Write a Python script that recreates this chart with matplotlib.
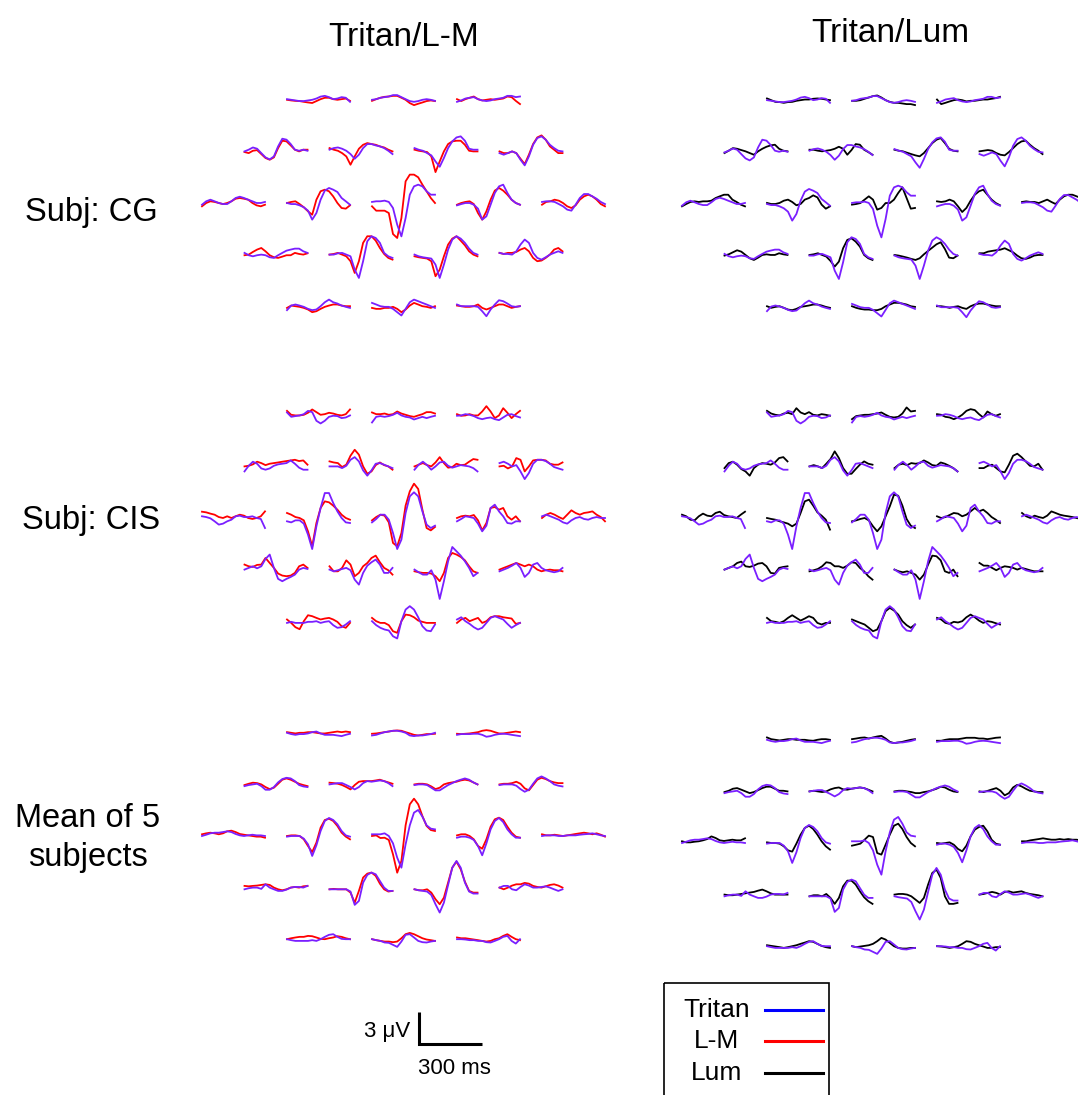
import numpy as np
import matplotlib.pyplot as plt

plt.rcParams['font.family'] = ['Liberation Sans', 'DejaVu Sans']

# time samples of every trace (ms) and electrode layout (rows of 3,4,5,4,3)
t_ms = np.arange(16) * 20
row_cols = [[-1, 0, 1], [-1.5, -0.5, 0.5, 1.5], [-2, -1, 0, 1, 2],
            [-1.5, -0.5, 0.5, 1.5], [-1, 0, 1]]

# waveforms in microvolts, electrode order row by row
cg_tritan = [
    [0.06, 0, -0.06, -0.12, -0.12, -0.06, 0, 0.12, 0.3, 0.37, 0.25, 0.06, 0.12, 0.25, 0.19, -0.19],
    [0, 0.06, 0.19, 0.25, 0.31, 0.44, 0.44, 0.25, 0.06, -0.12, -0.19, -0.12, 0, 0.06, 0, -0.1],
    [-0.19, -0.06, 0.12, 0.19, 0.25, 0.06, -0.06, -0.12, -0.06, 0.06, 0.12, 0.19, 0.37, 0.37, 0.25, 0.31],
    [0, 0.16, 0.37, 0.25, -0.16, -0.56, -0.75, -0.47, 0.47, 1.19, 1.1, 0.69, 0.16, 0.06, 0.16, 0.06],
    [0.16, 0.31, 0.37, 0.25, 0.06, -0.25, -0.69, -0.31, 0.31, 0.69, 0.69, 0.56, 0.47, 0.31, 0.06, -0.25],
    [0.31, 0.16, 0.06, -0.16, -0.37, -0.94, -1.44, -0.62, 0.31, 0.94, 1.31, 1.41, 1.0, 0.25, 0.16, 0.16],
    [-0.16, -0.31, -0.16, 0, -0.16, -0.78, -1.31, -0.47, 0.62, 1.25, 1.41, 1.1, 0.62, 0.31, 0.06, 0],
    [-0.16, 0.16, 0.31, 0.16, 0, -0.1, -0.1, 0.16, 0.47, 0.59, 0.47, 0.31, 0.16, 0, 0, 0.1],
    [0, -0.1, -0.1, -0.22, -0.4, -0.72, -1.56, -0.94, 0.31, 1.16, 1.41, 1.25, 1.03, 0.47, 0.16, -0.16],
    [0.1, 0.16, 0.16, 0.22, 0.1, -0.47, -2.03, -3.13, -1.41, 0.78, 1.56, 1.72, 1.56, 1.1, 0.78, 0.78],
    [-0.22, -0.1, 0, 0, -0.16, -0.53, -1.56, -1.25, -0.16, 0.94, 1.56, 1.72, 0.94, 0.31, 0, -0.16],
    [0.1, 0.16, 0.16, 0.1, -0.1, -0.31, -0.62, -0.72, -0.16, 0.47, 0.84, 0.84, 0.62, 0.4, 0.1, -0.1],
    [0.16, -0.06, -0.16, -0.06, 0, -0.06, -0.25, -0.31, -0.06, 0.16, 0.37, 0.47, 0.56, 0.56, 0.31, 0.16],
    [0, 0, 0.12, 0.16, 0, -0.16, -1.41, -2.19, -0.62, 1.25, 1.72, 1.56, 1.1, 0.16, -0.16, -0.31],
    [0, -0.16, -0.25, -0.31, -0.37, -0.94, -2.19, -0.94, 0.47, 1.41, 1.72, 1.5, 1.1, 0.56, 0.16, 0],
    [0.16, 0.06, 0.06, 0, 0.31, 0.94, 1.41, 1.1, 0.16, -0.31, -0.47, -0.25, 0, 0.16, 0.31, 0.16],
    [-0.37, 0.06, 0.16, 0.06, -0.06, -0.25, -0.37, -0.31, 0, 0.37, 0.62, 0.37, 0.25, 0.06, -0.06, -0.16],
    [0.31, 0.16, 0, -0.06, -0.06, -0.25, -0.56, -0.87, -0.25, 0.37, 0.62, 0.47, 0.31, 0.16, 0, -0.16],
    [0.16, 0, 0, 0, 0, -0.06, -0.47, -0.94, -0.31, 0.16, 0.56, 0.47, 0.25, 0, -0.06, 0],
]
cg_lm = [
    [0, -0.06, -0.1, -0.12, -0.19, -0.25, -0.3, -0.12, 0.06, 0.19, 0.19, 0.06, 0, 0.06, 0.12, -0.1],
    [-0.1, 0.06, 0.19, 0.28, 0.31, 0.37, 0.37, 0.19, 0, -0.31, -0.5, -0.37, -0.25, -0.12, -0.06, -0.12],
    [0.06, -0.12, 0.06, 0.19, 0.31, 0.06, -0.06, 0, 0.06, 0, 0.06, 0.12, 0.31, 0.25, -0.1, -0.4],
    [-0.06, -0.16, 0.06, 0.12, -0.25, -0.62, -0.78, -0.56, 0.31, 1.0, 0.94, 0.56, 0.16, 0, 0.16, 0.16],
    [0.31, 0.16, 0.06, -0.16, -0.47, -1.25, -0.47, 0.25, 0.62, 0.78, 0.69, 0.62, 0.47, 0.37, 0.16, 0],
    [0.16, 0.06, 0, -0.06, -0.47, -1.94, -0.94, 0, 0.69, 0.94, 1.0, 1.0, 0.62, 0.06, 0, 0],
    [0, -0.16, -0.16, 0, -0.16, -0.69, -1.19, -0.31, 0.69, 1.31, 1.5, 1.1, 0.47, 0.16, -0.16, -0.16],
    [-0.31, 0, 0.16, 0.1, 0, -0.1, 0, 0.16, 0.4, 0.47, 0.4, 0.31, 0, -0.22, -0.31, -0.16],
    [0, 0.1, 0.16, -0.1, -0.4, -0.78, -1.1, 0.31, 1.1, 1.25, 1.1, 0.62, 0, -0.47, -0.53, -0.22],
    [-0.31, -0.72, -0.72, -0.72, -0.94, -2.91, -3.28, -1.41, 2.03, 2.66, 2.66, 2.41, 1.72, 1.1, 0.47, 0],
    [-0.16, 0, 0.1, 0.16, -0.1, -0.94, -1.56, -0.78, 0.31, 1.16, 1.41, 1.16, 0.78, 0.31, 0, -0.16],
    [-0.16, 0.1, 0.16, 0.31, 0.22, 0, -0.31, -0.47, -0.22, 0.31, 0.62, 0.78, 0.62, 0.31, -0.1, -0.31],
    [-0.06, 0, 0.25, 0.47, 0.62, 0.31, -0.06, -0.25, -0.31, -0.19, -0.06, -0.06, 0.16, 0.06, 0, 0.12],
    [0, 0.06, 0.16, 0, -0.16, -0.62, -1.72, -0.62, 1.1, 1.72, 1.72, 1.31, 0.62, 0.06, -0.31, -0.47],
    [-0.16, -0.25, -0.31, -0.37, -0.62, -2.03, -1.41, -0.16, 0.94, 1.5, 1.72, 1.31, 0.87, 0.31, 0, -0.16],
    [0.16, 0.06, 0.16, 0.16, 0.25, 0.47, 0.62, 0.31, -0.31, -0.62, -0.56, -0.31, 0, 0.47, 0.62, 0.31],
    [-0.16, 0.06, 0, -0.06, -0.16, -0.31, -0.56, -0.47, -0.25, -0.06, 0.06, 0.16, 0.16, 0.06, 0, 0],
    [-0.16, -0.25, -0.25, -0.16, -0.16, -0.06, -0.25, -0.56, -0.31, 0.06, 0.31, 0.16, 0, -0.06, -0.16, 0],
    [0.06, 0, -0.06, -0.06, 0, 0.16, -0.16, -0.31, -0.16, 0, 0.16, 0.16, 0, -0.16, -0.06, 0],
]
cg_lum = [
    [0.22, 0.06, -0.1, -0.12, -0.19, -0.12, -0.1, 0, 0.06, 0.12, 0.12, 0.19, 0.22, 0.19, 0.12, 0.06],
    [0, 0, 0.06, 0.19, 0.31, 0.44, 0.5, 0.31, 0.06, -0.1, -0.19, -0.19, -0.25, -0.31, -0.31, -0.4],
    [0.12, -0.31, -0.19, -0.06, 0.06, 0.12, 0.06, -0.06, 0, 0, 0.06, 0.12, 0.12, 0.19, 0.25, 0.37],
    [-0.06, 0.16, 0.4, 0.34, 0.22, 0.1, -0.06, -0.22, 0.1, 0.34, 0.53, 0.66, 0.72, 0.34, 0.16, 0.1],
    [0.25, 0.25, 0.16, 0.1, 0.16, 0.22, 0.34, 0.53, 0.34, -0.22, 0.22, 0.78, 0.72, 0.25, 0.03, -0.22],
    [0.25, 0.16, 0.1, -0.03, -0.16, -0.28, -0.37, -0.06, 0.4, 0.87, 1.19, 1.34, 0.87, 0.34, 0.16, 0.1],
    [0.1, 0.16, 0.22, 0.16, -0.06, -0.22, -0.28, 0.03, 0.4, 0.78, 1.03, 1.1, 0.72, 0.4, 0.16, -0.16],
    [-0.22, 0, 0.19, 0.25, 0.19, 0.25, 0.25, 0.31, 0.56, 0.72, 0.87, 0.87, 0.41, 0.19, -0.06, -0.22],
    [0.1, 0, 0, 0.1, 0.31, 0.41, 0.19, -0.12, 0, 0.41, 0.56, 0.81, 0.62, -0.06, -0.44, -0.22],
    [-0.06, 0, 0.09, 0.41, 0.72, 0.41, -0.53, -0.37, 0.09, 0.09, 0.41, 1.03, 1.56, 0.56, -0.44, -0.37],
    [0.25, 0.19, 0.25, 0.41, 0.25, -0.22, -0.75, -0.37, 0.31, 0.87, 1.19, 1.34, 0.87, 0.41, 0.09, -0.12],
    [0.19, 0.25, 0.19, 0.19, 0.09, 0.25, 0.41, 0.19, 0, 0.41, 0.72, 0.87, 0.87, 0.72, 0.56, 0.41],
    [0, 0.12, 0.31, 0.5, 0.37, 0.06, -0.25, -0.41, -0.19, 0.06, 0.12, 0.06, 0.06, 0.22, 0.12, 0.06],
    [0.06, 0.12, 0.22, 0.06, -0.09, -0.5, -1.03, -0.56, 0.69, 1.47, 1.62, 1.31, 0.84, 0.06, -0.25, -0.41],
    [0.06, 0, -0.09, -0.19, -0.31, -0.41, -0.25, 0.12, 0.44, 0.75, 1.06, 1.25, 0.62, -0.19, -0.25, 0],
    [0.22, 0.22, 0.37, 0.44, 0.5, 0.56, 0.69, 0.5, 0.31, 0, -0.25, -0.31, -0.19, 0, 0.06, 0.06],
    [0.09, -0.06, 0.03, 0.09, -0.06, -0.22, -0.28, -0.16, 0.03, 0.09, 0.16, 0.25, 0.25, 0.16, 0.03, -0.06],
    [0.09, -0.06, -0.16, -0.22, -0.22, -0.28, -0.28, -0.16, 0.09, 0.25, 0.41, 0.41, 0.34, 0.25, 0.09, 0.03],
    [0.09, 0.09, 0.03, -0.06, 0.03, 0.09, -0.06, -0.16, 0.09, 0.25, 0.34, 0.34, 0.25, 0.16, 0.09, 0.09],
]

cis_tritan = [
    [0.22, -0.19, -0.12, -0.06, 0.06, 0.37, 0.25, -0.56, -0.81, -0.56, -0.19, -0.09, -0.12, -0.31, -0.25, -0.06],
    [-0.72, -0.19, -0.12, -0.19, -0.12, 0, 0.19, -0.06, -0.19, -0.25, -0.44, -0.31, -0.19, -0.31, -0.19, -0.09],
    [-0.09, -0.06, 0.06, 0, -0.12, -0.31, -0.41, -0.31, -0.25, -0.41, -0.5, -0.25, 0, 0.06, -0.12, -0.25],
    [-0.47, 0.06, 0.44, 0.25, -0.19, -0.31, -0.19, 0.06, 0.19, 0.25, 0.31, 0.56, 0.25, -0.12, -0.31, -0.31],
    [0, 0, 0, -0.16, 0.06, 0.62, 0.87, 0.47, -0.37, -0.87, -0.37, 0.25, 0.31, 0.16, 0, -0.16],
    [-0.31, 0.16, 0.44, 0.12, -0.31, 0, 0.37, 0.44, 0.06, -0.12, 0, 0.12, 0.06, 0, -0.16, -0.47],
    [0.31, 0.44, 0.25, 0, 0.12, -0.47, -1.19, -0.62, 0.25, 0.62, 0.62, 0.5, 0.25, -0.06, -0.19, -0.31],
    [0.16, 0.09, -0.03, -0.31, -0.62, -0.53, -0.31, -0.16, 0.16, 0.22, 0.09, 0.09, 0.16, 0, -0.09, -0.94],
    [-0.31, -0.41, -0.22, -0.22, -0.53, -1.56, -2.91, -0.78, 0.94, 2.34, 2.34, 1.41, 0.62, 0, -0.41, -0.47],
    [-0.41, -0.09, 0.31, 0.31, -0.16, -1.41, -2.91, -2.03, 0.47, 2.03, 2.41, 2.03, 0.62, -0.62, -0.94, -0.72],
    [-0.31, -0.09, 0.16, 0.09, 0, -0.53, -1.25, -0.72, 0.94, 1.25, 0.62, 0.16, -0.47, -0.53, -0.31, -0.31],
    [0.16, 0.31, 0.16, 0, -0.16, -0.41, -0.53, -0.22, 0, 0.09, -0.09, -0.16, 0, 0.09, 0, 0],
    [0, 0.16, 0.31, 0.12, 0.31, 1.0, 1.41, 0.16, -0.87, -1.09, -0.87, -0.69, -0.47, 0, 0.16, 0.06],
    [0, -0.16, -0.06, 0.06, 0.16, -0.06, -0.94, -1.41, -0.31, 0.37, 0.69, 0.94, 0.47, -0.31, -0.31, 0.16],
    [0, -0.25, -0.47, -0.47, -0.06, -0.94, -2.75, -1.09, 0.78, 2.12, 1.72, 1.31, 0.78, 0.16, -0.62, -0.31],
    [-0.16, 0, 0.16, 0.37, 0.62, 0.16, -0.69, -0.31, 0.47, 0.62, 0.16, -0.06, -0.16, -0.25, -0.16, 0.16],
    [-0.16, -0.06, -0.16, -0.16, -0.16, -0.06, -0.06, 0, -0.16, -0.06, 0, -0.37, -0.62, -0.56, -0.31, 0],
    [0, -0.37, -0.62, -0.78, -0.87, -1.41, -1.62, 0, 1.09, 1.41, 1.09, 0.37, -0.47, -0.87, -0.94, -0.31],
    [0.16, 0.37, 0, -0.25, -0.56, -0.78, -0.62, -0.16, 0.31, 0.47, 0.31, 0.16, -0.25, -0.62, -0.37, -0.16],
]
cis_lm = [
    [0.37, 0, -0.06, -0.06, 0, 0.19, 0.5, 0.25, 0, 0.06, 0.19, 0.12, 0, -0.06, 0.06, 0.5],
    [0.22, 0.06, 0.06, 0.12, 0, 0.06, 0.31, 0.12, 0, -0.12, -0.19, -0.06, 0.06, 0.25, 0.25, 0.12],
    [0.06, -0.09, -0.06, 0.06, -0.06, -0.06, 0.31, 0.81, 0.31, -0.31, -0.06, 0.62, 0.19, -0.31, 0.06, 0.37],
    [0, 0.06, 0.19, 0.44, 0.31, 0.12, 0.25, 0.31, 0.37, 0.44, 0.5, 0.56, 0.62, 0.5, 0.56, 0.16],
    [0.47, 0.37, 0.31, -0.06, 0.16, 1.0, 1.56, 1.1, 0, -0.69, -0.47, 0.12, 0.37, 0.12, 0, -0.31],
    [0, 0.16, 0.31, 0.12, 0, 0.37, 0.87, 0.31, -0.12, -0.06, 0.25, 0.12, 0.16, 0.44, 0.69, 0.62],
    [0, 0.06, -0.19, 0, 0.78, 0.62, -0.47, 0, 0.56, 0.62, 0.62, 0.56, 0.25, 0.16, 0.16, 0.37],
    [0.59, 0.53, 0.41, 0.31, 0.09, 0, 0.16, 0, 0.16, 0.31, 0.22, 0, -0.09, 0, 0.16, 0.62],
    [0.47, 0.31, 0.09, 0, -0.22, -1.25, -2.66, -0.47, 0.94, 1.56, 1.47, 1.16, 0.78, 0.31, 0, -0.16],
    [-0.22, 0.09, 0.31, 0.22, -0.41, -2.34, -2.66, -1.41, 1.16, 2.5, 3.22, 2.72, 0.78, -0.94, -1.16, -0.84],
    [0, 0.16, 0.22, 0.16, 0.28, -0.22, -1.16, -0.47, 0.94, 1.03, 0.78, 0.94, 0.16, -0.16, 0.16, -0.31],
    [0, 0.31, 0.47, 0.31, 0.09, -0.09, 0.31, 0.72, 0.47, 0.31, 0.47, 0.53, 0.62, 0.31, 0.09, -0.31],
    [0.47, 0.31, 0.25, 0.44, 0.47, 1.09, 0.62, 0.16, -0.37, -0.56, -0.62, -0.56, -0.31, 0.31, 0.47, 0.16],
    [0.31, -0.16, -0.16, 0.16, 0.87, 0.47, -0.62, -0.31, 0.31, 0.62, 1.09, 1.31, 0.69, 0.16, -0.06, -0.47],
    [-0.16, -0.25, -0.31, -0.31, -0.37, -0.62, -1.09, -0.31, 1.09, 1.56, 1.41, 1.19, 0.87, 0.31, -0.16, -0.31],
    [0, 0.16, 0.31, 0.47, 0.62, 0.47, 0.31, 0.47, 0.31, 0, -0.16, -0.06, 0, -0.06, -0.06, -0.16],
    [0.16, -0.16, -0.56, -0.75, 0, 0.56, 0.47, 0.31, 0.16, 0.25, 0.31, 0.16, -0.06, -0.47, -0.62, -0.16],
    [0.31, 0, -0.16, -0.16, -0.37, -0.94, -1.09, 0, 0.62, 0.56, 0.37, 0.06, -0.06, -0.16, -0.16, -0.16],
    [-0.16, 0.16, 0.31, 0, 0.16, 0.31, -0.16, 0, 0.37, 0.47, 0.47, 0.37, 0.31, 0.25, -0.25, -0.16],
]
cis_lum = [
    [0.37, 0.12, 0, -0.06, 0.12, 0.19, 0.06, 0.62, 0.22, 0.06, 0.25, 0, -0.06, 0.06, 0, -0.09],
    [-0.41, -0.12, -0.06, 0, 0, 0.06, 0.12, 0.22, 0, -0.19, -0.25, -0.19, 0.12, 0.69, 0.31, 0.37],
    [0.06, 0, -0.19, -0.25, -0.41, -0.25, 0, 0.37, 0.53, 0.44, 0.06, -0.25, 0.31, 0.06, -0.09, 0.06],
    [-0.16, 0.31, 0.44, 0.16, -0.25, -0.47, -0.87, -0.16, 0.16, 0.31, 0.25, 0.16, 0.37, 0.78, 0.87, 0.47],
    [0, 0.12, 0, -0.16, 0.25, 0.69, 1.41, 0.78, -0.16, -0.69, -0.69, -0.25, 0.16, 0.47, 0.25, 0.16],
    [-0.16, 0.16, 0.25, 0.12, 0.31, 0.25, 0.31, 0.56, 0.37, 0.12, 0.06, 0.37, 0.25, 0.06, -0.16, -0.47],
    [-0.16, -0.16, 0.06, 0.16, -0.16, -0.47, -0.56, 0.16, 1.0, 1.19, 0.87, 0.47, 0.06, 0, 0.25, -0.31],
    [0.31, 0.16, -0.16, -0.22, 0.16, 0.41, 0.22, 0.16, 0.47, 0.59, 0.28, 0.16, 0.09, 0, 0.31, 0.59],
    [0, -0.09, -0.16, -0.31, -0.41, -0.53, -0.78, -0.53, 0.47, 1.56, 1.72, 1.16, 0.53, 0.22, -0.16, -1.09],
    [-0.31, -0.22, -0.09, 0, -0.22, -0.78, -1.25, -0.78, 0.16, 1.09, 2.19, 2.09, 1.16, -0.09, -0.72, -0.94],
    [0.16, 0, 0.09, 0.28, 0.47, 0.41, 0.16, 0.31, 0.62, 0.94, 0.62, 0.78, 0.47, 0.09, -0.16, -0.47],
    [0.47, 0.16, 0, 0.22, 0.09, 0, 0.22, 0.62, 0.47, 0.31, 0.22, 0.16, 0.09, 0, -0.09, -0.16],
    [0, 0.16, 0.31, 0.62, 0.75, 0.31, 0.25, 0.37, 0.56, 0.62, 0.31, -0.31, -0.37, 0.16, 0.25, 0.31],
    [-0.16, -0.06, 0.06, 0.31, 0.69, 0.62, 0.31, 0.31, 0.16, 0.37, 0.69, 0.62, 0.16, -0.16, -0.62, -0.94],
    [0, -0.16, -0.25, -0.16, -0.31, -0.47, -0.94, -0.47, 0.47, 1.31, 1.25, 0.87, -0.16, -0.31, 0, -0.62],
    [0.62, 0.37, 0.37, 0.16, -0.06, 0.16, 0.31, 0.25, 0.16, 0, 0.16, 0.06, -0.06, -0.16, -0.16, -0.16],
    [0.31, 0, -0.06, -0.16, 0, 0.31, 0.56, 0.31, 0.06, 0.25, 0.47, 0.31, -0.16, -0.31, -0.16, -0.16],
    [0.16, 0, -0.16, -0.31, -0.62, -0.94, -0.78, 0, 0.94, 1.25, 1.0, 0.62, 0, -0.37, -0.62, -0.31],
    [0.31, 0.16, -0.16, -0.25, -0.06, -0.12, 0, 0.37, 0.62, 0.37, 0.06, -0.16, 0, -0.06, -0.19, -0.31],
]

mean_tritan = [
    [0, -0.12, -0.19, -0.12, -0.12, -0.06, 0.06, 0.12, -0.06, -0.19, -0.19, -0.19, -0.25, -0.31, -0.19, -0.09],
    [-0.25, -0.19, -0.06, 0.06, 0.12, 0.19, 0.19, 0.12, 0, -0.25, -0.31, -0.25, -0.25, -0.19, -0.12, 0],
    [-0.19, -0.12, -0.12, -0.12, -0.09, -0.09, -0.19, -0.37, -0.31, -0.19, -0.12, -0.09, -0.12, -0.19, -0.25, -0.31],
    [-0.16, -0.06, 0, 0.06, -0.16, -0.5, -0.5, -0.25, 0.19, 0.5, 0.62, 0.56, 0.31, -0.06, -0.19, -0.25],
    [0, 0.06, 0.12, 0.12, -0.06, -0.25, -0.47, -0.25, 0.12, 0.31, 0.25, 0.31, 0.37, 0.31, 0.12, -0.16],
    [-0.06, 0, 0, -0.06, -0.31, -0.56, -0.56, -0.31, -0.06, 0.12, 0.31, 0.44, 0.56, 0.44, 0.19, 0],
    [-0.06, 0, 0, 0, -0.12, -0.44, -0.69, -0.5, 0.06, 0.56, 0.75, 0.56, 0.31, 0, -0.12, -0.19],
    [0, 0.12, 0.25, 0.31, 0.31, 0.37, 0.44, 0.37, 0.19, 0.06, 0, 0.06, 0.12, 0.06, 0.06, 0],
    [-0.06, 0, 0, 0, -0.25, -0.78, -1.87, -0.87, 0.47, 1.41, 1.69, 1.5, 1.1, 0.47, 0.06, -0.06],
    [0.16, 0.16, 0.16, 0.25, 0, -0.69, -2.03, -2.97, -0.78, 1.0, 2.19, 2.44, 1.81, 1.0, 0.69, 0.62],
    [-0.16, -0.06, -0.06, -0.16, -0.37, -0.94, -1.81, -0.69, 0.62, 1.41, 1.69, 1.31, 0.62, 0.16, -0.16, -0.16],
    [0, 0.06, 0.06, 0.06, 0, 0, 0.06, 0.06, 0.06, 0.12, 0.16, 0.19, 0.25, 0.16, 0.06, 0],
    [-0.16, -0.06, 0, 0, -0.12, 0.31, 0, -0.16, -0.31, -0.31, -0.19, 0, 0.06, 0.06, 0, 0.16],
    [-0.16, -0.16, -0.16, -0.16, -0.16, -0.37, -1.62, -1.25, 0.47, 1.19, 1.41, 1.25, 0.62, 0, -0.31, -0.31],
    [-0.16, -0.25, -0.31, -0.37, -0.69, -1.56, -2.34, -1.41, 0.25, 1.87, 2.5, 1.87, 0.47, -0.37, -0.56, -0.56],
    [0, 0.16, 0.16, -0.16, -0.25, 0.06, 0.31, 0.19, 0, 0, 0.06, 0.12, 0, -0.16, -0.31, -0.16],
    [0, -0.09, -0.16, -0.16, -0.16, -0.16, -0.09, -0.16, 0, 0.22, 0.41, 0.47, 0.22, 0.03, 0, 0],
    [0, -0.09, -0.16, -0.31, -0.34, -0.53, -0.72, -0.22, 0.41, 0.47, 0.16, -0.16, -0.28, -0.31, -0.22, -0.16],
    [0, 0, -0.03, -0.09, -0.09, -0.16, -0.16, -0.28, -0.31, -0.16, 0, 0.22, 0.31, -0.16, -0.41, 0],
]
mean_lm = [
    [0.06, 0, -0.06, 0, 0, 0.06, 0.06, 0, -0.06, -0.06, 0, 0.06, 0.12, 0.06, 0.12, 0.06],
    [-0.09, -0.06, 0, 0.06, 0.12, 0.19, 0.22, 0.19, 0.06, -0.06, -0.19, -0.25, -0.19, -0.12, -0.12, -0.09],
    [-0.09, -0.12, -0.09, -0.06, 0, 0.06, 0.19, 0.25, 0.19, 0.06, -0.06, -0.06, 0, 0.06, 0.12, 0.06],
    [-0.06, 0.06, 0.16, 0.12, 0, -0.25, -0.44, -0.31, 0.06, 0.44, 0.56, 0.44, 0.25, 0.06, -0.06, -0.16],
    [0.16, 0.12, 0.06, -0.06, -0.25, -0.47, -0.06, 0.25, 0.31, 0.31, 0.31, 0.37, 0.44, 0.31, 0.19, 0.06],
    [0, 0.06, 0.06, 0, -0.19, -0.44, -0.31, 0, 0.12, 0.19, 0.25, 0.37, 0.44, 0.37, 0.19, 0],
    [0, 0.06, 0.06, 0.12, 0.25, 0.06, -0.37, -0.56, -0.06, 0.44, 0.62, 0.5, 0.31, 0.19, 0.12, 0.12],
    [0.16, 0.25, 0.31, 0.25, 0.16, 0.25, 0.44, 0.5, 0.37, 0.19, 0.12, 0.06, 0, -0.06, -0.06, -0.16],
    [0, 0.06, 0.06, 0, -0.31, -0.94, -1.5, -0.62, 0.78, 1.5, 1.62, 1.41, 0.94, 0.31, -0.06, -0.31],
    [0, 0.06, -0.19, -0.16, -0.37, -1.72, -3.44, -2.34, 1.0, 2.97, 3.5, 2.97, 1.87, 0.94, 0.56, 0.47],
    [0.06, 0.16, 0.16, 0, -0.31, -0.94, -1.19, -0.31, 0.87, 1.56, 1.72, 1.5, 0.87, 0.31, -0.06, -0.16],
    [0.16, 0.06, 0.06, 0.12, 0.06, 0, 0.06, 0.12, 0.19, 0.25, 0.31, 0.25, 0.16, 0.25, 0.12, -0.06],
    [0.16, 0.12, 0.16, 0.19, 0.25, 0.31, 0.25, 0, -0.16, -0.25, -0.16, 0, 0.06, 0, 0.12, 0.16],
    [-0.16, -0.12, -0.16, -0.16, -0.16, -0.47, -1.41, -0.31, 0.94, 1.31, 1.41, 1.1, 0.37, -0.16, -0.37, -0.31],
    [-0.16, -0.25, -0.25, -0.16, -0.47, -1.09, -1.56, -0.94, 0.47, 1.87, 2.44, 1.72, 0.56, -0.31, -0.47, -0.47],
    [0, -0.16, 0, 0.19, 0.31, 0.31, 0.44, 0.37, 0.16, 0.06, 0, 0.12, 0.25, 0.31, 0.19, 0],
    [0, 0.09, 0.16, 0.22, 0.22, 0.31, 0.28, 0.16, 0.03, 0, 0.09, 0.16, 0.28, 0.22, 0.09, 0],
    [0, -0.09, -0.16, -0.22, -0.22, -0.28, -0.22, 0.09, 0.47, 0.59, 0.47, 0.28, 0.09, -0.03, -0.09, -0.16],
    [0.16, 0.09, 0.09, 0.03, -0.03, -0.09, -0.16, -0.22, -0.16, 0, 0.09, 0.31, 0.47, 0.22, 0, -0.09],
]
mean_lum = [
    [0.22, 0.06, 0, -0.06, 0, 0.06, 0.06, 0, 0, 0, -0.06, -0.09, 0, 0.06, 0.06, 0],
    [0.06, 0.12, 0.19, 0.22, 0.12, 0.22, 0.31, 0.37, 0.12, -0.19, -0.31, -0.25, -0.19, -0.09, 0, 0.06],
    [-0.09, -0.09, 0, 0.06, 0.06, 0.06, 0.12, 0.19, 0.19, 0.19, 0.12, 0.12, 0.06, 0.12, 0.19, 0.22],
    [-0.06, 0.06, 0.25, 0.31, 0.16, 0, -0.16, -0.06, 0.12, 0.31, 0.44, 0.44, 0.25, 0.06, 0.06, 0],
    [0, 0.06, 0, -0.06, 0, 0.19, 0.31, 0.37, 0.19, 0.16, 0.25, 0.31, 0.37, 0.31, 0.16, 0],
    [0, 0.06, 0.06, 0, -0.06, -0.16, -0.16, -0.06, 0, 0.12, 0.25, 0.44, 0.37, 0.16, 0, -0.06],
    [0, -0.06, 0.06, 0.19, 0.31, 0.06, -0.37, -0.16, 0.37, 0.62, 0.47, 0.25, 0.06, 0, -0.06, -0.06],
    [0.16, 0.06, 0.06, 0.12, 0.16, 0.25, 0.37, 0.62, 0.47, 0.25, 0.19, 0.25, 0.31, 0.25, 0.25, 0.44],
    [0.06, 0, 0, -0.06, -0.31, -0.69, -0.81, -0.06, 0.78, 1.41, 1.62, 1.31, 0.78, 0.16, -0.31, -0.62],
    [-0.25, -0.16, -0.06, 0.31, 0.69, 0.56, -0.94, -1.09, -0.16, 0.78, 1.62, 1.81, 1.31, 0.56, 0, -0.31],
    [0, -0.06, 0, 0.06, -0.16, -0.56, -0.78, -0.25, 0.62, 1.25, 1.5, 1.62, 1.09, 0.31, -0.06, -0.16],
    [0.16, 0.16, 0.25, 0.31, 0.37, 0.44, 0.37, 0.31, 0.31, 0.37, 0.31, 0.37, 0.31, 0.31, 0.25, 0.25],
    [0, -0.06, -0.06, 0, 0.06, 0.12, 0.19, 0.25, 0.37, 0.47, 0.31, 0.12, 0, 0, 0, 0],
    [-0.16, -0.06, -0.06, -0.16, 0.06, -0.31, -0.87, -0.31, 0.78, 1.31, 1.31, 0.94, 0.31, -0.25, -0.62, -0.87],
    [0, 0.06, 0.06, 0, -0.16, -0.47, -0.78, -0.31, 0.94, 2.03, 2.34, 1.56, -0.16, -0.87, -0.87, -0.78],
    [0, 0.06, 0.16, 0.25, 0.16, 0, 0.25, 0.31, 0.19, 0.25, 0.31, 0.16, 0.06, 0, -0.06, -0.16],
    [0.09, 0.03, -0.03, -0.09, -0.16, -0.09, 0, 0.09, 0.22, 0.34, 0.47, 0.41, 0.22, 0.03, -0.09, -0.16],
    [0, -0.09, -0.03, 0.03, 0.09, 0.22, 0.47, 0.78, 0.62, 0.31, 0, -0.16, -0.22, -0.22, -0.16, -0.16],
    [0, -0.03, -0.09, -0.16, -0.09, 0, 0.22, 0.47, 0.41, 0.22, 0.09, -0.03, -0.16, -0.16, -0.09, -0.09],
]

col_titles = ['Tritan/L-M', 'Tritan/Lum']
row_labels = ['Subj: CG', 'Subj: CIS', 'Mean of 5\nsubjects']
legend_labels = ['Tritan', 'L-M', 'Lum']

tritan_col = '#7a1fff'
px_per_uv = 32 / 3.0      # 3 uV scale bar is 32 px tall
px_per_ms = 63 / 300.0    # 300 ms scale bar is 63 px wide
dx, dy = 85, 51.6         # electrode spacing in px

fig = plt.figure(figsize=(10.78, 10.95), dpi=100)
ax = fig.add_axes([0, 0, 1, 1])
ax.set_xlim(0, 1078)
ax.set_ylim(1095, 0)
ax.axis('off')


def draw_montage(cx, cy, data, color, z):
    k = 0
    for r, cols in enumerate(row_cols):
        for c in cols:
            x0 = cx + c * dx - 31
            y0 = cy + (r - 2) * dy
            v = np.array(data[k])
            ax.plot(x0 + t_ms * px_per_ms, y0 - v * px_per_uv, color=color,
                    lw=1.3, zorder=z, solid_joinstyle='round')
            k += 1


subjects = [(cg_tritan, cg_lm, cg_lum, 203, 1),
            (cis_tritan, cis_lm, cis_lum, 518, 0),
            (mean_tritan, mean_lm, mean_lum, 836, 7)]
for tri, lm, lum, cy, shift in subjects:
    draw_montage(403, cy, lm, 'red', 2)
    draw_montage(403, cy, tri, tritan_col, 3)
    draw_montage(883, cy + shift, lum, 'black', 2)
    draw_montage(883, cy + shift, tri, tritan_col, 3)

ax.text(404, 46, col_titles[0], fontsize=24, ha='center', va='baseline')
ax.text(890, 42, col_titles[1], fontsize=24, ha='center', va='baseline')
for lab, x, y in zip(row_labels, [91, 91, 88], [212, 520, 838]):
    ax.text(x, y, lab, fontsize=23.5, ha='center', va='center', linespacing=1.3)

# scale bar
ax.plot([419, 419, 419 + 300 * px_per_ms], [1044 - 3 * px_per_uv, 1044, 1044],
        color='black', lw=2.2, solid_capstyle='butt', solid_joinstyle='miter')
ax.text(410, 1031, '3 μV', fontsize=16, ha='right', va='center')
ax.text(418, 1068, '300 ms', fontsize=16, ha='left', va='center')

# legend box
ax.add_patch(plt.Rectangle((664, 983), 165, 140, fill=False, ec='black', lw=1.2))
for lab, col, y in zip(legend_labels, ['blue', 'red', 'black'], [1010, 1041, 1073]):
    ax.text(717, y, lab, fontsize=19, ha='center', va='center')
    ax.plot([765, 823], [y, y], color=col, lw=2.2)

fig.savefig('out.png', dpi=100)
